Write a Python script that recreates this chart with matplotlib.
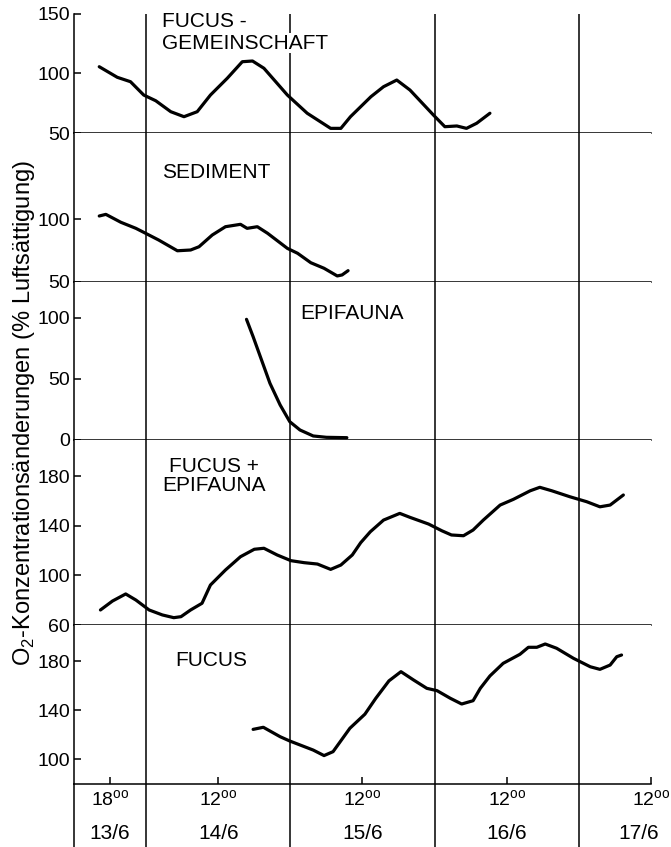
#################################
# O2 concentration changes in Fucus mesocosm compartments
# five stacked panels, shared time axis (hours since 13/6 00:00)
#################################
import matplotlib
matplotlib.use('Agg')
import matplotlib.pyplot as plt

plt.rcParams['font.family'] = ['Liberation Sans', 'DejaVu Sans']

####################### DATA #######################
# FUCUS-GEMEINSCHAFT
gem_t = [16.2, 19.2, 21.4, 23.6, 25.6, 28.1, 30.3, 32.5, 34.7, 37.5, 40.0, 41.7,
         43.6, 47.5, 50.8, 54.7, 56.4, 58.0, 61.4, 63.5, 65.7, 67.9, 71.8, 73.7,
         75.7, 77.3, 79.0, 81.2]
gem_v = [105.7, 96.8, 93.1, 81.9, 77.1, 67.9, 63.7, 67.9, 81.9, 96.0, 109.9, 110.5,
         104.4, 81.9, 66.6, 53.9, 53.9, 63.7, 80.5, 88.9, 94.5, 86.1, 65.1, 55.3,
         55.9, 53.9, 58.2, 66.6]
# SEDIMENT
sed_t = [16.2, 17.3, 19.8, 22.3, 23.9, 26.1, 29.2, 31.4, 32.8, 35.0, 37.2, 39.7,
         40.8, 42.5, 44.2, 47.5, 49.2, 51.4, 53.6, 55.8, 56.6, 57.6]
sed_v = [102.4, 103.7, 97.4, 92.6, 88.7, 83.3, 74.8, 75.4, 78.0, 87.3, 93.9, 95.8,
         92.6, 93.9, 88.7, 76.7, 72.8, 65.3, 60.9, 54.8, 55.6, 59.0]
# EPIFAUNA
epi_t = [40.7, 41.8, 43.2, 44.6, 46.3, 47.9, 49.6, 51.8, 54.0, 57.4]
epi_v = [98.9, 84.7, 65.6, 46.5, 28.7, 15.0, 8.2, 3.3, 2.2, 1.9]
# FUCUS + EPIFAUNA
fep_t = [16.4, 18.4, 20.6, 22.3, 24.5, 26.7, 28.6, 29.8, 31.4, 33.3, 34.7, 37.2,
         39.7, 42.0, 43.6, 45.8, 48.1, 50.3, 52.5, 54.7, 56.4, 58.3, 59.7, 61.3,
         63.5, 66.2, 67.9, 71.0, 73.2, 74.8, 76.8, 78.4, 80.1, 82.9, 85.1, 87.9,
         89.5, 91.5, 94.5, 97.3, 99.5, 101.2, 103.4]
fep_v = [72.1, 79.3, 85.0, 80.1, 72.1, 68.1, 65.9, 66.7, 72.1, 77.5, 92.2, 104.3,
         115.0, 121.0, 121.8, 116.4, 111.8, 110.2, 109.1, 104.8, 108.3, 116.4, 126.3,
         135.1, 144.5, 149.9, 146.7, 141.3, 135.9, 132.5, 131.9, 136.5, 144.5, 156.6,
         161.2, 168.1, 170.9, 168.1, 163.3, 159.3, 155.2, 156.6, 164.7]
# FUCUS
fuc_t = [41.8, 43.5, 46.3, 47.9, 51.8, 53.6, 55.1, 57.9, 60.4, 62.2, 64.4, 66.4,
         68.5, 70.7, 72.4, 74.6, 76.5, 78.4, 79.6, 81.2, 83.4, 86.2, 87.6, 89.0,
         90.4, 92.3, 95.1, 97.9, 99.5, 101.2, 102.3, 103.1]
fuc_v = [124.2, 125.9, 118.2, 114.7, 107.3, 102.8, 106.0, 125.1, 136.6, 149.5, 163.8, 171.3,
         164.5, 157.7, 155.8, 149.6, 144.9, 147.6, 157.7, 167.8, 178.1, 185.5, 191.2, 191.2,
         193.9, 190.4, 182.2, 175.3, 173.2, 176.7, 183.5, 184.9]

day_bounds = [24, 48, 72, 96]
time_ticks = [18, 36, 60, 84, 108]
time_labels = [r'18$^{\mathregular{oo}}$'] + [r'12$^{\mathregular{oo}}$'] * 4
date_pos = [18, 36, 60, 84, 106]
date_labels = ['13/6', '14/6', '15/6', '16/6', '17/6']
#####################################################

####################### LAYOUT #######################
W, H = 671., 847.
xl, xr = 74, 651
fs = 14      # tick labels
fs_lab = 15  # panel labels / dates
lw_ax = 1.1
lw_dat = 2.3

fig = plt.figure(figsize=(W/100, H/100), dpi=100)

def add_panel(top, bottom):
    return fig.add_axes([xl/W, 1-bottom/H, (xr-xl)/W, (bottom-top)/H])

# (top px, bottom px, ylim, yticks, t, v)
panels = [
    (14, 133, (50, 150), [50, 100, 150], gem_t, gem_v),
    (133, 282, (50, 168.3), [50, 100], sed_t, sed_v),
    (282, 440, (0, 129.5), [0, 50, 100], epi_t, epi_v),
    (440, 625, (60, 209), [60, 100, 140, 180], fep_t, fep_v),
    (625, 784, (79.6, 209.4), [100, 140, 180], fuc_t, fuc_v),
]

axes = []
for top, bot, ylim, yt, t, v in panels:
    ax = add_panel(top, bot)
    ax.plot(t, v, color='black', lw=lw_dat, solid_capstyle='round',
            solid_joinstyle='round')
    for d in day_bounds:
        ax.axvline(d, color='black', lw=lw_ax, zorder=1)
    ax.set_xlim(12, 108)
    ax.set_ylim(*ylim)
    ax.set_yticks(yt)
    ax.tick_params(axis='y', direction='in', length=5, width=lw_ax,
                   labelsize=fs, pad=3)
    ax.set_xticks([])
    for s in ['top', 'right']:
        ax.spines[s].set_visible(False)
    for s in ['left', 'bottom']:
        ax.spines[s].set_linewidth(lw_ax)
    axes.append(ax)

# bottom time axis
ax = axes[-1]
ax.set_xticks(time_ticks)
ax.set_xticklabels(time_labels)
ax.tick_params(axis='x', direction='in', length=5, width=lw_ax,
               labelsize=fs, pad=4)

# date strip below
axd = fig.add_axes([xl/W, 0, (xr-xl)/W, (H-784)/H])
axd.patch.set_visible(False)
axd.set_xlim(12, 108)
axd.set_ylim(0, 1)
axd.set_xticks([])
axd.set_yticks([])
for s in ['top', 'right', 'bottom']:
    axd.spines[s].set_visible(False)
axd.spines['left'].set_linewidth(lw_ax)
for d in day_bounds:
    axd.axvline(d, color='black', lw=lw_ax)
for p, lab in zip(date_pos, date_labels):
    axd.text(p, 0.22, lab, ha='center', va='center', fontsize=fs_lab)

# panel labels
axes[0].text(26.6, 143.3, 'FUCUS -', ha='left', va='center', fontsize=fs_lab)
axes[0].text(26.6, 125.6, 'GEMEINSCHAFT', ha='left', va='center', fontsize=fs_lab,
             bbox=dict(fc='white', ec='none', pad=0.5), zorder=3)
axes[1].text(26.6, 137, 'SEDIMENT', ha='left', va='center', fontsize=fs_lab)
axes[2].text(49.6, 104, 'EPIFAUNA', ha='left', va='center', fontsize=fs_lab)
axes[3].text(35.3, 180, 'FUCUS +\nEPIFAUNA', ha='center', va='center',
             fontsize=fs_lab, linespacing=1.05)
axes[4].text(34.8, 180.8, 'FUCUS', ha='center', va='center', fontsize=fs_lab)

fig.text(24/W, 1-413/H, r'O$_\mathregular{2}$-Konzentrationsänderungen (% Luftsättigung)',
         rotation=90, ha='center', va='center', fontsize=17)

plt.savefig('out.png', dpi=100)
plt.close('all')
